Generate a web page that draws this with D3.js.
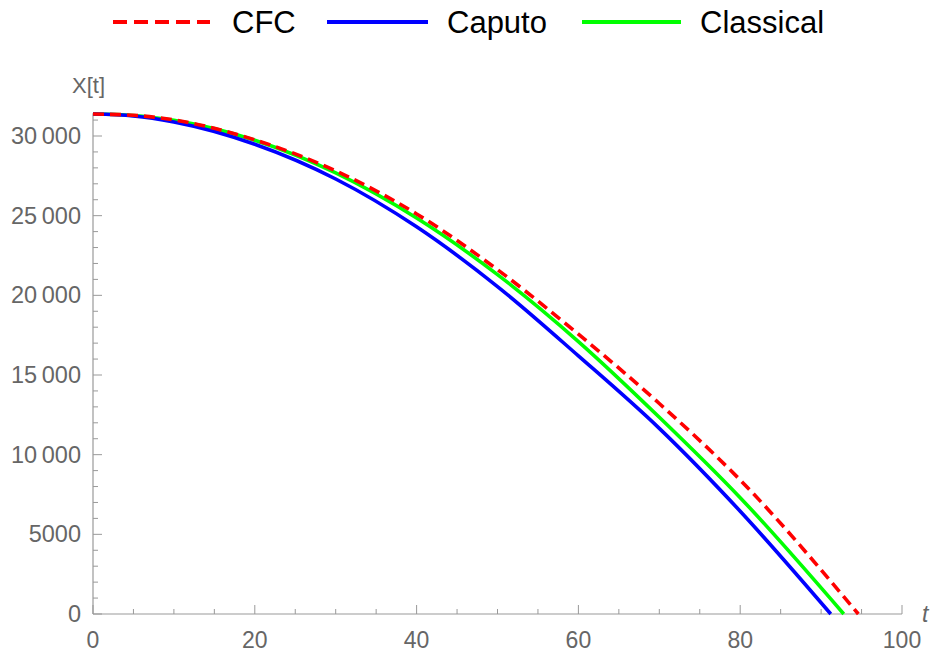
<!DOCTYPE html>
<html>
<head>
<meta charset="utf-8">
<script src="https://cdn.jsdelivr.net/npm/d3@7/dist/d3.min.js"></script>
<style>
  html, body { margin: 0; padding: 0; background: #fff; }
  svg { display: block; }
</style>
</head>
<body>
<svg id="chart" width="933" height="655"></svg>
<script>
// ---- data ----
const seriesNames = ["CFC", "Caputo", "Classical"];
const seriesColors = ["#ff0000", "#0000ff", "#00ff00"];

const cfcT   = [0, 5, 10, 20, 30, 40, 50, 60, 70, 80, 94.6];
const cfcX   = [31380, 31300, 31010, 29760, 27810, 25110, 21610, 17560, 13210, 8410, 0];

const caputoT = [0, 5, 10, 20, 30, 40, 50, 60, 70, 80, 91.2];
const caputoX = [31380, 31260, 30880, 29480, 27300, 24300, 20550, 16200, 11650, 6450, 0];

const classicalT = [0, 5, 10, 20, 30, 40, 50, 60, 70, 80, 92.8];
const classicalX = [31380, 31290, 30980, 29730, 27680, 24850, 21300, 17100, 12350, 7300, 0];

const xMajorTicks = [0, 20, 40, 60, 80, 100];
const xTickLabels = ["0", "20", "40", "60", "80", "100"];
const yMajorTicks = [0, 5000, 10000, 15000, 20000, 25000, 30000];
const yTickLabels = ["0", "5000", "10\u2009000", "15\u2009000", "20\u2009000", "25\u2009000", "30\u2009000"];

// ---- layout ----
const svg = d3.select("#chart");
const x = d3.scaleLinear().domain([0, 100]).range([93, 902]);
const y = d3.scaleLinear().domain([0, 30000]).range([614, 136]);
const yTop = 31420;
const axisColor = "#999999";
const labelColor = "#666666";
const font = "'Liberation Sans', Arial, sans-serif";

// axes lines
svg.append("line").attr("x1", x(0)).attr("x2", x(100)).attr("y1", y(0)).attr("y2", y(0))
  .attr("stroke", axisColor).attr("stroke-width", 1.2);
svg.append("line").attr("x1", x(0)).attr("x2", x(0)).attr("y1", y(0)).attr("y2", y(yTop))
  .attr("stroke", axisColor).attr("stroke-width", 1.2);

// x ticks (inward)
const xMinor = d3.range(0, 101, 5);
svg.append("g").selectAll("line").data(xMinor).join("line")
  .attr("x1", d => x(d)).attr("x2", d => x(d))
  .attr("y1", y(0)).attr("y2", d => y(0) - (d % 20 === 0 ? 9 : 5))
  .attr("stroke", axisColor).attr("stroke-width", 1);
svg.append("g").selectAll("text").data(xMajorTicks).join("text")
  .attr("x", d => x(d)).attr("y", 648)
  .attr("text-anchor", "middle")
  .attr("font-family", font).attr("font-size", 23).attr("fill", labelColor)
  .text((d, i) => xTickLabels[i]);

// y ticks (inward)
const yMinor = d3.range(0, 31001, 1000);
svg.append("g").selectAll("line").data(yMinor).join("line")
  .attr("y1", d => y(d)).attr("y2", d => y(d))
  .attr("x1", x(0)).attr("x2", d => x(0) + (d % 5000 === 0 ? 9 : 5))
  .attr("stroke", axisColor).attr("stroke-width", 1);
svg.append("g").selectAll("text").data(yMajorTicks).join("text")
  .attr("x", 81).attr("y", d => y(d) + 8)
  .attr("text-anchor", "end")
  .attr("font-family", font).attr("font-size", 23.5).attr("fill", labelColor)
  .text((d, i) => yTickLabels[i]);

// axis labels
svg.append("text").attr("x", 72).attr("y", 93)
  .attr("font-family", font).attr("font-size", 22).attr("fill", labelColor).text("X[t]");
svg.append("text").attr("x", 922).attr("y", 622)
  .attr("font-family", font).attr("font-size", 23).attr("font-style", "italic")
  .attr("fill", labelColor).text("t");

// curves
const line = d3.line().x(d => x(d[0])).y(d => y(d[1])).curve(d3.curveMonotoneX);
const series = [
  { t: classicalT, v: classicalX, color: seriesColors[2], dash: null },
  { t: caputoT, v: caputoX, color: seriesColors[1], dash: null },
  { t: cfcT, v: cfcX, color: seriesColors[0], dash: "11,6" }
];
series.forEach(s => {
  svg.append("path")
    .datum(s.t.map((t, i) => [t, s.v[i]]))
    .attr("d", line)
    .attr("fill", "none")
    .attr("stroke", s.color)
    .attr("stroke-width", 3.6)
    .attr("stroke-dasharray", s.dash);
});

// legend
const legendItems = [
  { name: seriesNames[0], color: seriesColors[0], dash: "14,7", x1: 113, x2: 210, tx: 232 },
  { name: seriesNames[1], color: seriesColors[1], dash: null, x1: 327, x2: 428, tx: 447 },
  { name: seriesNames[2], color: seriesColors[2], dash: null, x1: 582, x2: 681, tx: 700 }
];
const lg = svg.append("g");
legendItems.forEach(it => {
  lg.append("line").attr("x1", it.x1).attr("x2", it.x2).attr("y1", 22).attr("y2", 22)
    .attr("stroke", it.color).attr("stroke-width", 4).attr("stroke-dasharray", it.dash);
  lg.append("text").attr("x", it.tx).attr("y", 33)
    .attr("font-family", font).attr("font-size", 31).attr("fill", "#000").text(it.name);
});
</script>
</body>
</html>
